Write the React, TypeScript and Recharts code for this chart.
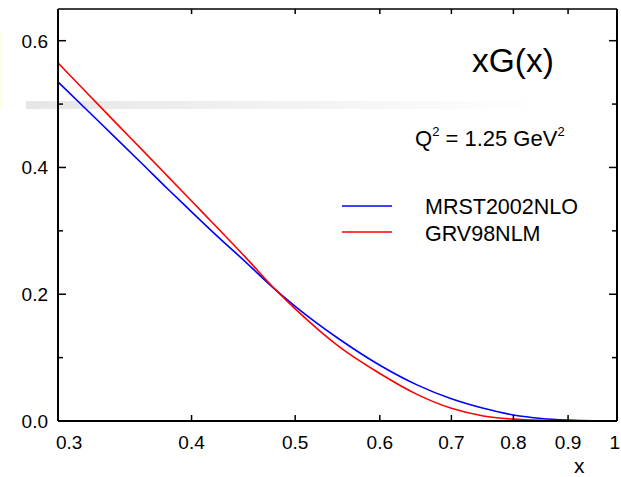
import React from "react"
import { LineChart, Line, XAxis, YAxis } from "recharts"

const xs = [0.3, 0.32, 0.34, 0.36, 0.38, 0.4, 0.42, 0.45, 0.48, 0.5, 0.55, 0.6, 0.65, 0.7, 0.75, 0.8, 0.85, 0.9, 0.95, 1.0]
const mrst = [0.535, 0.489, 0.446, 0.405, 0.366, 0.33, 0.296, 0.25, 0.206, 0.181, 0.129, 0.088, 0.057, 0.035, 0.02, 0.0095, 0.004, 0.0015, 0.0003, 0]
const grv = [0.565, 0.516, 0.47, 0.427, 0.386, 0.347, 0.31, 0.257, 0.206, 0.177, 0.117, 0.075, 0.042, 0.02, 0.008, 0.003, 0.001, 0.0003, 0.0001, 0]

const xTicks = [0.3, 0.4, 0.5, 0.6, 0.7, 0.8, 0.9, 1]
const xTopTicks = [0.4, 0.5, 0.6, 0.7, 0.8, 0.9]
const yTicks = [0, 0.1, 0.2, 0.3, 0.4, 0.5, 0.6]
const yLabels = [0, 0.2, 0.4, 0.6]

const data = xs.map((x, i) => ({ x, mrst: mrst[i], grv: grv[i] }))

const font = "'Liberation Sans', Arial, sans-serif"

const BottomTick = (props: any) => {
  const { x, y, payload } = props
  const v = payload.value
  const label = v === 1 ? "1" : v.toFixed(1)
  const anchor = v === 0.3 ? "start" : v === 1 ? "end" : "middle"
  const tx = v === 0.3 ? x - 2 : v === 1 ? 620 : x
  return (
    <g>
      <line x1={x} y1={y} x2={x} y2={y - 6} stroke="#000" strokeWidth={1.5} />
      <text x={tx} y={y + 28} textAnchor={anchor} fontSize={19} fontFamily={font} fill="#000">
        {label}
      </text>
    </g>
  )
}

const TopTick = (props: any) => {
  const { x, y } = props
  return <line x1={x} y1={y} x2={x} y2={y + 5} stroke="#000" strokeWidth={1.5} />
}

const LeftTick = (props: any) => {
  const { x, y, payload } = props
  const v = payload.value
  const major = yLabels.includes(v)
  return (
    <g>
      <line x1={x} y1={y} x2={x + (major ? 8 : 5)} y2={y} stroke="#000" strokeWidth={1.5} />
      {major && (
        <text x={x - 10} y={y + 7} textAnchor="end" fontSize={19} fontFamily={font} fill="#000">
          {v.toFixed(1)}
        </text>
      )}
    </g>
  )
}

const RightTick = (props: any) => {
  const { x, y, payload } = props
  const major = yLabels.includes(payload.value)
  return <line x1={x} y1={y} x2={x - (major ? 8 : 5)} y2={y} stroke="#000" strokeWidth={1.5} />
}

export default function App() {
  return (
    <div style={{ position: "absolute", left: 0, top: 0, width: 621, height: 477, background: "#fff", fontFamily: font }}>
      <div style={{ position: "absolute", left: 0, top: 32, width: 2, height: 76, background: "#ffffe0" }} />
      <div
        style={{
          position: "absolute",
          left: 26,
          top: 101,
          width: 510,
          height: 8,
          background: "linear-gradient(to right, #e6e6e6, #f4f4f4 60%, #ffffff)",
        }}
      />
      <div style={{ position: "absolute", left: 0, top: 0 }}>
        <LineChart width={621} height={477} data={data} margin={{ top: 8, right: 3, bottom: 0, left: 0 }}>
          <XAxis
            dataKey="x"
            type="number"
            scale="log"
            domain={[0.3, 1]}
            allowDataOverflow
            ticks={xTicks}
            interval={0}
            height={56}
            tickSize={0}
            tickMargin={0}
            tickLine={false}
            axisLine={{ stroke: "#000", strokeWidth: 2 }}
            tick={<BottomTick />}
          />
          <XAxis
            xAxisId="top"
            dataKey="x"
            type="number"
            scale="log"
            domain={[0.3, 1]}
            allowDataOverflow
            orientation="top"
            ticks={xTopTicks}
            interval={0}
            height={1}
            tickSize={0}
            tickMargin={0}
            tickLine={false}
            axisLine={{ stroke: "#000", strokeWidth: 1.5 }}
            tick={<TopTick />}
          />
          <YAxis
            type="number"
            domain={[0, 0.65]}
            allowDataOverflow
            ticks={yTicks}
            interval={0}
            width={58}
            tickSize={0}
            tickMargin={0}
            tickLine={false}
            axisLine={{ stroke: "#000", strokeWidth: 2 }}
            tick={<LeftTick />}
          />
          <YAxis
            yAxisId="right"
            orientation="right"
            type="number"
            domain={[0, 0.65]}
            allowDataOverflow
            ticks={yTicks}
            interval={0}
            width={1}
            tickSize={0}
            tickMargin={0}
            tickLine={false}
            axisLine={{ stroke: "#000", strokeWidth: 2 }}
            tick={<RightTick />}
          />
          <Line type="monotone" dataKey="mrst" stroke="#0000ff" strokeWidth={1.6} dot={false} isAnimationActive={false} />
          <Line
            type="monotone"
            dataKey="grv"
            xAxisId="top"
            yAxisId="right"
            stroke="#ff0000"
            strokeWidth={1.6}
            dot={false}
            isAnimationActive={false}
          />
        </LineChart>
      </div>
      <svg width={621} height={477} style={{ position: "absolute", left: 0, top: 0, pointerEvents: "none" }}>
        <text x={472} y={72} fontSize={33.5} fontFamily={font} fill="#000">xG(x)</text>
        <text x={415} y={146} fontSize={22} fontFamily={font} fill="#000">
          Q<tspan fontSize={13} dy={-10}>2</tspan>
          <tspan dy={10}> = 1.25 GeV</tspan>
          <tspan fontSize={13} dy={-10}>2</tspan>
        </text>
        <line x1={342} y1={206} x2={392} y2={206} stroke="#0000ff" strokeWidth={1.6} />
        <text x={425} y={214} fontSize={21.5} fontFamily={font} fill="#000">MRST2002NLO</text>
        <line x1={342} y1={232} x2={392} y2={232} stroke="#ff0000" strokeWidth={1.6} />
        <text x={425} y={241} fontSize={21.5} fontFamily={font} fill="#000">GRV98NLM</text>
        <text x={574} y={473} fontSize={21} fontFamily={font} fill="#000">x</text>
      </svg>
    </div>
  )
}
